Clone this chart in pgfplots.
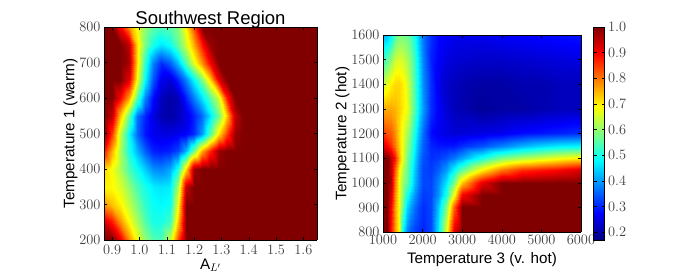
\documentclass[border=0pt]{standalone}
\usepackage{fontspec}
\setmainfont{Liberation Sans}
\usepackage{pgfplots}
\pgfplotsset{compat=1.18}
\pgfplotsset{common/.style={
  scale only axis, view={0}{90}, axis on top, colormap/jet,
  point meta min=0.17, point meta max=1,
  tick align=inside, tick style={black,line width=0.4pt}, major tick length=3pt,
  axis line style={black,line width=0.7pt},
  tick label style={font=\fontsize{13.7}{14}\selectfont, color=black!75},
  label style={font=\fontsize{15.2}{16}\selectfont},
  ztick=\empty,
  xtick pos=both, ytick pos=both,
}}
\begin{document}
\begin{tikzpicture}
\path[use as bounding box] (0pt,0pt) rectangle (700pt,275pt);
\begin{axis}[common, at={(104pt,35pt)}, anchor=south west, width=213pt, height=213pt,
  xmin=0.87, xmax=1.65, ymin=200, ymax=800,
  xtick={0.9,1.0,1.1,1.2,1.3,1.4,1.5,1.6},
  xticklabel style={yshift=-2pt,/pgf/number format/.cd,fixed,fixed zerofill,precision=1},
  ytick={200,300,400,500,600,700,800},
  xlabel={A$_{L'}$}, ylabel={Temperature 1 (warm)},
  xlabel style={yshift=3pt}, ylabel style={yshift=-5pt},
  title={Southwest Region}, title style={font=\fontsize{18.5}{19}\selectfont, yshift=-11pt},
]
\addplot3[surf, shader=interp, mesh/cols=20] coordinates {
(0.87,200,1)(0.90,200,1)(0.93,200,.92)(0.96,200,.78)(0.99,200,.68)(1.02,200,.6)(1.05,200,.55)(1.08,200,.54)(1.11,200,.64)(1.14,200,.84)(1.17,200,1)(1.20,200,1)(1.23,200,1)(1.26,200,1)(1.29,200,1)(1.32,200,1)(1.35,200,1)(1.38,200,1)(1.41,200,1)(1.65,200,1)
(0.87,250,.93)(0.90,250,.88)(0.93,250,.78)(0.96,250,.69)(0.99,250,.62)(1.02,250,.55)(1.05,250,.5)(1.08,250,.5)(1.11,250,.53)(1.14,250,.74)(1.17,250,1)(1.20,250,1)(1.23,250,1)(1.26,250,1)(1.29,250,1)(1.32,250,1)(1.35,250,1)(1.38,250,1)(1.41,250,1)(1.65,250,1)
(0.87,300,.78)(0.90,300,.74)(0.93,300,.7)(0.96,300,.64)(0.99,300,.58)(1.02,300,.52)(1.05,300,.49)(1.08,300,.48)(1.11,300,.49)(1.14,300,.68)(1.17,300,1)(1.20,300,1)(1.23,300,1)(1.26,300,1)(1.29,300,1)(1.32,300,1)(1.35,300,1)(1.38,300,1)(1.41,300,1)(1.65,300,1)
(0.87,350,.70)(0.90,350,.69)(0.93,350,.66)(0.96,350,.6)(0.99,350,.54)(1.02,350,.5)(1.05,350,.47)(1.08,350,.46)(1.11,350,.47)(1.14,350,.62)(1.17,350,.95)(1.20,350,1)(1.23,350,1)(1.26,350,1)(1.29,350,1)(1.32,350,1)(1.35,350,1)(1.38,350,1)(1.41,350,1)(1.65,350,1)
(0.87,400,.72)(0.90,400,.68)(0.93,400,.62)(0.96,400,.54)(0.99,400,.49)(1.02,400,.44)(1.05,400,.39)(1.08,400,.38)(1.11,400,.41)(1.14,400,.5)(1.17,400,.72)(1.20,400,.98)(1.23,400,1)(1.26,400,1)(1.29,400,1)(1.32,400,1)(1.35,400,1)(1.38,400,1)(1.41,400,1)(1.65,400,1)
(0.87,450,.88)(0.90,450,.75)(0.93,450,.62)(0.96,450,.5)(0.99,450,.42)(1.02,450,.35)(1.05,450,.3)(1.08,450,.29)(1.11,450,.3)(1.14,450,.33)(1.17,450,.42)(1.20,450,.58)(1.23,450,.76)(1.26,450,.87)(1.29,450,.98)(1.32,450,1)(1.35,450,1)(1.38,450,1)(1.41,450,1)(1.65,450,1)
(0.87,500,1)(0.90,500,.85)(0.93,500,.64)(0.96,500,.48)(0.99,500,.36)(1.02,500,.29)(1.05,500,.26)(1.08,500,.25)(1.11,500,.25)(1.14,500,.26)(1.17,500,.27)(1.20,500,.31)(1.23,500,.4)(1.26,500,.55)(1.29,500,.72)(1.32,500,.85)(1.35,500,.98)(1.38,500,1)(1.41,500,1)(1.65,500,1)
(0.87,550,1)(0.90,550,.95)(0.93,550,.74)(0.96,550,.56)(0.99,550,.37)(1.02,550,.3)(1.05,550,.25)(1.08,550,.21)(1.11,550,.2)(1.14,550,.22)(1.17,550,.25)(1.20,550,.3)(1.23,550,.36)(1.26,550,.46)(1.29,550,.58)(1.32,550,.74)(1.35,550,.95)(1.38,550,1)(1.41,550,1)(1.65,550,1)
(0.87,600,1)(0.90,600,1)(0.93,600,.9)(0.96,600,.76)(0.99,600,.55)(1.02,600,.38)(1.05,600,.28)(1.08,600,.22)(1.11,600,.2)(1.14,600,.22)(1.17,600,.3)(1.20,600,.38)(1.23,600,.46)(1.26,600,.55)(1.29,600,.66)(1.32,600,.88)(1.35,600,1)(1.38,600,1)(1.41,600,1)(1.65,600,1)
(0.87,650,1)(0.90,650,1)(0.93,650,1)(0.96,650,.92)(0.99,650,.68)(1.02,650,.48)(1.05,650,.34)(1.08,650,.26)(1.11,650,.24)(1.14,650,.3)(1.17,650,.38)(1.20,650,.48)(1.23,650,.58)(1.26,650,.72)(1.29,650,.92)(1.32,650,1)(1.35,650,1)(1.38,650,1)(1.41,650,1)(1.65,650,1)
(0.87,700,1)(0.90,700,1)(0.93,700,1)(0.96,700,.97)(0.99,700,.72)(1.02,700,.52)(1.05,700,.38)(1.08,700,.31)(1.11,700,.35)(1.14,700,.43)(1.17,700,.55)(1.20,700,.67)(1.23,700,.78)(1.26,700,.9)(1.29,700,1)(1.32,700,1)(1.35,700,1)(1.38,700,1)(1.41,700,1)(1.65,700,1)
(0.87,750,1)(0.90,750,1)(0.93,750,1)(0.96,750,.95)(0.99,750,.72)(1.02,750,.58)(1.05,750,.5)(1.08,750,.46)(1.11,750,.49)(1.14,750,.56)(1.17,750,.65)(1.20,750,.76)(1.23,750,.88)(1.26,750,.98)(1.29,750,1)(1.32,750,1)(1.35,750,1)(1.38,750,1)(1.41,750,1)(1.65,750,1)
(0.87,800,1)(0.90,800,1)(0.93,800,.9)(0.96,800,.78)(0.99,800,.68)(1.02,800,.6)(1.05,800,.56)(1.08,800,.54)(1.11,800,.55)(1.14,800,.59)(1.17,800,.7)(1.20,800,.84)(1.23,800,1)(1.26,800,1)(1.29,800,1)(1.32,800,1)(1.35,800,1)(1.38,800,1)(1.41,800,1)(1.65,800,1)
};
\end{axis}
\begin{axis}[common, at={(383pt,43pt)}, anchor=south west, width=198pt, height=197pt,
  xmin=1000, xmax=6000, ymin=800, ymax=1600,
  xtick={1000,2000,3000,4000,5000,6000},
  ytick={800,900,1000,1100,1200,1300,1400,1500,1600},
  /pgf/number format/1000 sep={},
  xlabel={Temperature 3 (v. hot)}, ylabel={Temperature 2 (hot)},
  xlabel style={yshift=-1pt}, ylabel style={yshift=-5pt},
  colorbar,
  colorbar style={
    at={(parent axis.south west)}, anchor=south west, xshift=202pt, yshift=-8pt,
    scale only axis, width=11pt, height=213pt,
    ytick={0.2,0.3,0.4,0.5,0.6,0.7,0.8,0.9,1.0},
    yticklabel pos=right,
    yticklabel style={/pgf/number format/.cd,fixed,fixed zerofill,precision=1},
    tick label style={font=\fontsize{13.7}{14}\selectfont, color=black!75},
    tick style={black,line width=0.4pt}, major tick length=3pt,
    axis line style={black,line width=0.7pt},
  },
]
\addplot3[surf, shader=interp, mesh/cols=22] coordinates {
(1000,800,1)(1100,800,1)(1200,800,.88)(1300,800,.77)(1400,800,.68)(1500,800,.47)(1600,800,.38)(1700,800,.34)(1800,800,.32)(1900,800,.31)(2000,800,.3)(2200,800,.33)(2400,800,.46)(2600,800,.66)(2800,800,.92)(3000,800,1)(3500,800,1)(4000,800,1)(4500,800,1)(5000,800,1)(5500,800,1)(6000,800,1)
(1000,900,1)(1100,900,1)(1200,900,.9)(1300,900,.77)(1400,900,.68)(1500,900,.56)(1600,900,.45)(1700,900,.4)(1800,900,.36)(1900,900,.33)(2000,900,.31)(2200,900,.33)(2400,900,.43)(2600,900,.58)(2800,900,.82)(3000,900,1)(3500,900,1)(4000,900,1)(4500,900,1)(5000,900,1)(5500,900,1)(6000,900,1)
(1000,950,1)(1100,950,1)(1200,950,.93)(1300,950,.78)(1400,950,.68)(1500,950,.59)(1600,950,.5)(1700,950,.44)(1800,950,.39)(1900,950,.35)(2000,950,.32)(2200,950,.33)(2400,950,.39)(2600,950,.5)(2800,950,.68)(3000,950,.9)(3500,950,1)(4000,950,1)(4500,950,1)(5000,950,1)(5500,950,1)(6000,950,1)
(1000,1000,1)(1100,1000,1)(1200,1000,.96)(1300,1000,.8)(1400,1000,.68)(1500,1000,.6)(1600,1000,.56)(1700,1000,.49)(1800,1000,.42)(1900,1000,.37)(2000,1000,.33)(2200,1000,.33)(2400,1000,.38)(2600,1000,.46)(2800,1000,.58)(3000,1000,.74)(3500,1000,.92)(4000,1000,1)(4500,1000,1)(5000,1000,1)(5500,1000,1)(6000,1000,1)
(1000,1050,1)(1100,1050,1)(1200,1050,.95)(1300,1050,.82)(1400,1050,.7)(1500,1050,.62)(1600,1050,.57)(1700,1050,.5)(1800,1050,.43)(1900,1050,.37)(2000,1050,.33)(2200,1050,.32)(2400,1050,.35)(2600,1050,.4)(2800,1050,.48)(3000,1050,.56)(3500,1050,.7)(4000,1050,.8)(4500,1050,.86)(5000,1050,.88)(5500,1050,.9)(6000,1050,.93)
(1000,1100,1)(1100,1100,1)(1200,1100,.96)(1300,1100,.88)(1400,1100,.76)(1500,1100,.66)(1600,1100,.58)(1700,1100,.52)(1800,1100,.45)(1900,1100,.38)(2000,1100,.34)(2200,1100,.31)(2400,1100,.32)(2600,1100,.34)(2800,1100,.37)(3000,1100,.41)(3500,1100,.5)(4000,1100,.58)(4500,1100,.62)(5000,1100,.65)(5500,1100,.68)(6000,1100,.7)
(1000,1150,.92)(1100,1150,.9)(1200,1150,.86)(1300,1150,.8)(1400,1150,.73)(1500,1150,.67)(1600,1150,.6)(1700,1150,.54)(1800,1150,.47)(1900,1150,.4)(2000,1150,.35)(2200,1150,.3)(2400,1150,.29)(2600,1150,.29)(2800,1150,.29)(3000,1150,.31)(3500,1150,.34)(4000,1150,.38)(4500,1150,.42)(5000,1150,.45)(5500,1150,.47)(6000,1150,.48)
(1000,1200,.85)(1100,1200,.83)(1200,1200,.82)(1300,1200,.78)(1400,1200,.72)(1500,1200,.67)(1600,1200,.62)(1700,1200,.56)(1800,1200,.49)(1900,1200,.42)(2000,1200,.36)(2200,1200,.28)(2400,1200,.26)(2600,1200,.25)(2800,1200,.24)(3000,1200,.24)(3500,1200,.25)(4000,1200,.26)(4500,1200,.28)(5000,1200,.29)(5500,1200,.3)(6000,1200,.31)
(1000,1300,.76)(1100,1300,.76)(1200,1300,.76)(1300,1300,.75)(1400,1300,.73)(1500,1300,.7)(1600,1300,.68)(1700,1300,.6)(1800,1300,.54)(1900,1300,.46)(2000,1300,.4)(2200,1300,.31)(2400,1300,.27)(2600,1300,.24)(2800,1300,.22)(3000,1300,.21)(3500,1300,.19)(4000,1300,.2)(4500,1300,.2)(5000,1300,.21)(5500,1300,.22)(6000,1300,.22)
(1000,1400,.65)(1100,1400,.67)(1200,1400,.7)(1300,1400,.72)(1400,1400,.72)(1500,1400,.7)(1600,1400,.66)(1700,1400,.6)(1800,1400,.53)(1900,1400,.46)(2000,1400,.39)(2200,1400,.31)(2400,1400,.26)(2600,1400,.23)(2800,1400,.22)(3000,1400,.21)(3500,1400,.2)(4000,1400,.2)(4500,1400,.21)(5000,1400,.21)(5500,1400,.22)(6000,1400,.22)
(1000,1500,.52)(1100,1500,.56)(1200,1500,.6)(1300,1500,.65)(1400,1500,.66)(1500,1500,.65)(1600,1500,.62)(1700,1500,.58)(1800,1500,.52)(1900,1500,.45)(2000,1500,.38)(2200,1500,.3)(2400,1500,.27)(2600,1500,.25)(2800,1500,.24)(3000,1500,.235)(3500,1500,.23)(4000,1500,.23)(4500,1500,.235)(5000,1500,.24)(5500,1500,.245)(6000,1500,.25)
(1000,1600,.42)(1100,1600,.43)(1200,1600,.47)(1300,1600,.55)(1400,1600,.58)(1500,1600,.58)(1600,1600,.57)(1700,1600,.54)(1800,1600,.49)(1900,1600,.43)(2000,1600,.37)(2200,1600,.31)(2400,1600,.28)(2600,1600,.27)(2800,1600,.26)(3000,1600,.26)(3500,1600,.26)(4000,1600,.27)(4500,1600,.275)(5000,1600,.28)(5500,1600,.285)(6000,1600,.29)
};
\end{axis}
\end{tikzpicture}
\end{document}
